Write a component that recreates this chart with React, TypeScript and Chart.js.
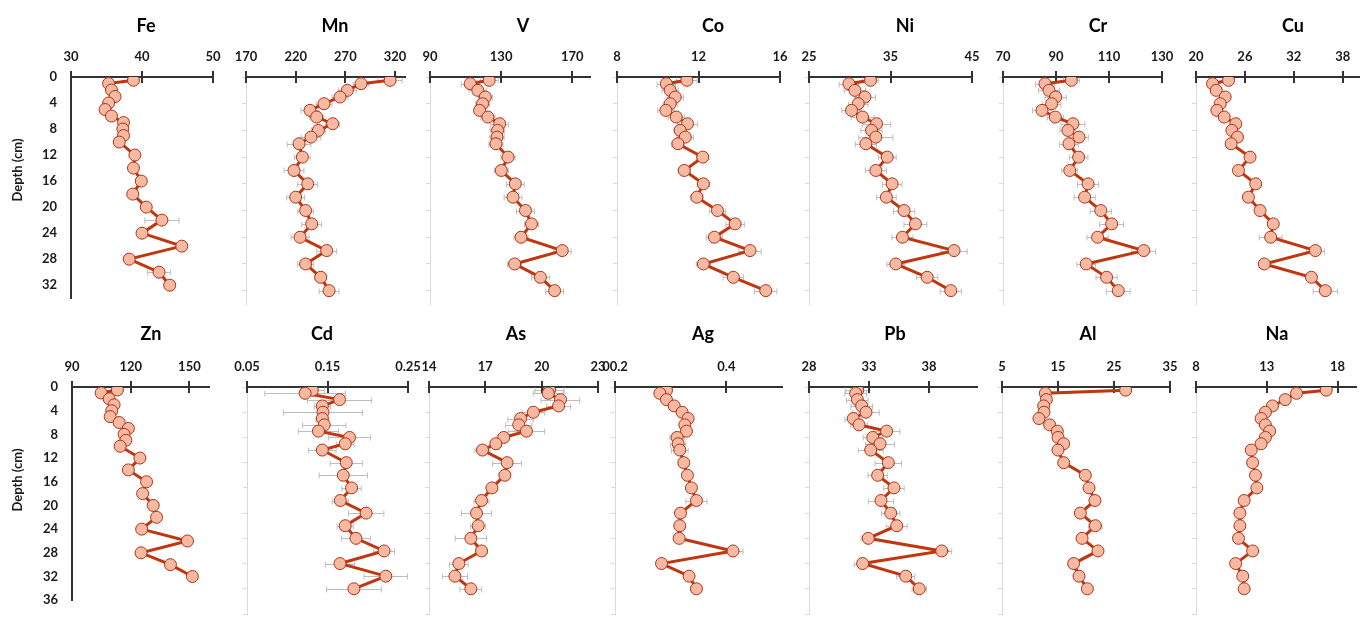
import React, { useEffect, useRef } from "react";
import { Chart, registerables } from "chart.js";

Chart.register(...registerables);

// ---------- DATA ----------
const depths = [0.5, 1, 2, 3, 4, 5, 6, 7, 8, 9, 10, 12, 14, 16, 18, 20, 22, 24, 26, 28, 30, 32];
const depthTicksTop = [0, 4, 8, 12, 16, 20, 24, 28, 32];
const depthTicksBottom = [0, 4, 8, 12, 16, 20, 24, 28, 32, 36];

const feValues = [38.8, 35.3, 35.7, 36.2, 35.3, 34.8, 35.7, 37.4, 37.3, 37.4, 36.8, 39.0, 38.8, 39.9, 38.7, 40.6, 42.8, 40.0, 45.6, 38.2, 42.4, 43.9];
const feErrors = [0.3, 0.3, 0.3, 0.3, 0.3, 0.3, 0.3, 0.3, 0.3, 0.3, 0.3, 0.3, 0.3, 0.3, 0.3, 0.4, 2.4, 0.3, 0.4, 0.3, 1.6, 0.4];
const feTicks = [30, 40, 50];

const mnValues = [315, 285.8, 272, 264.6, 248.5, 234.4, 241.1, 257.2, 242.8, 235.4, 223.4, 226.7, 218.3, 232.1, 220, 230, 236.1, 224.4, 251.2, 230, 245.2, 253.6];
const mnErrors = [12, 8, 9, 8, 8, 9, 7, 7, 7, 10, 12, 8, 10, 10, 9, 8, 10, 9, 10, 8, 6, 10];
const mnTicks = [170, 220, 270, 320];

const vValues = [123.3, 112.6, 116.9, 121.1, 119.6, 117.9, 122.6, 129.2, 128, 127.7, 127.1, 133.9, 130.1, 138, 136.7, 143.7, 147.1, 141.2, 164.4, 137.6, 152.1, 160.1];
const vErrors = [5, 5, 5, 4, 4, 3, 4, 5, 4, 4, 4, 4, 4, 5, 5, 5, 4, 4, 5, 4, 5, 5];
const vTicks = [90, 130, 170];

const coValues = [11.43, 10.42, 10.61, 10.86, 10.61, 10.4, 10.91, 11.46, 11.1, 11.35, 10.99, 12.21, 11.3, 12.24, 11.92, 12.93, 13.8, 12.78, 14.53, 12.24, 13.71, 15.3];
const coErrors = [0.5, 0.45, 0.4, 0.4, 0.35, 0.4, 0.4, 0.5, 0.3, 0.4, 0.3, 0.3, 0.3, 0.3, 0.3, 0.4, 0.45, 0.4, 0.55, 0.35, 0.5, 0.55];
const coTicks = [8, 12, 16];

const niValues = [32.55, 29.9, 30.63, 31.86, 31.04, 30.22, 31.57, 33.29, 32.67, 33.2, 31.98, 34.6, 33.2, 35.2, 34.5, 36.67, 38.06, 36.47, 42.8, 35.65, 39.5, 42.4];
const niErrors = [1, 1.2, 1.3, 1.3, 1.2, 1.2, 1.4, 1.7, 1.3, 2.1, 1.3, 1.1, 1.3, 1.2, 1.2, 1.3, 1.4, 1.3, 1.6, 1.1, 1.3, 1.3];
const niTicks = [25, 35, 45];

const crValues = [95.8, 85.85, 87.36, 89.87, 88.36, 84.7, 89.75, 96.4, 94.5, 98.7, 94.9, 98.55, 95.2, 102.1, 100.8, 106.9, 111, 105.7, 123.1, 101.4, 109.1, 113.5];
const crErrors = [3, 3.5, 4, 4, 3.5, 3.5, 3, 4.5, 3, 3.5, 3.5, 3.5, 3, 4, 4, 4, 4.5, 4, 4.5, 3.5, 4, 4.5];
const crTicks = [70, 90, 110, 130];

const cuValues = [23.99, 22.03, 22.48, 23.58, 22.97, 22.56, 23.46, 24.88, 24.4, 25.09, 24.31, 26.63, 25.21, 27.33, 26.43, 27.86, 29.48, 29.16, 34.65, 28.38, 34.16, 35.87];
const cuErrors = [0.6, 0.6, 0.7, 0.5, 0.6, 0.6, 0.5, 0.6, 0.5, 0.6, 0.4, 0.5, 0.4, 0.5, 0.5, 0.5, 0.4, 1.4, 1.1, 0.6, 0.6, 1.5];
const cuTicks = [20, 26, 32, 38];

const znValues = [113.2, 104.9, 109, 111.5, 110.3, 109.5, 114.1, 118.8, 116.6, 117.5, 114.6, 124.7, 118.8, 128.1, 126.1, 131.5, 133.2, 125.6, 149, 125.3, 140.3, 151.5];
const znErrors = [1, 2, 2, 1, 1, 2, 1, 1, 1, 1, 1, 2, 1, 2, 2, 1, 1, 1, 2, 1, 1, 2];
const znTicks = [90, 120, 150];

const cdValues = [0.1312, 0.1222, 0.165, 0.1436, 0.1444, 0.1436, 0.146, 0.1387, 0.1774, 0.172, 0.1436, 0.1733, 0.1696, 0.1799, 0.1659, 0.198, 0.172, 0.1853, 0.2203, 0.1655, 0.2224, 0.1828];
const cdErrors = [0.015, 0.05, 0.04, 0.01, 0.049, 0.008, 0.027, 0.025, 0.026, 0.011, 0.017, 0.02, 0.03, 0.012, 0.01, 0.022, 0.01, 0.018, 0.013, 0.018, 0.027, 0.034];
const cdTicks = [0.05, 0.15, 0.25];

const asValues = [20.42, 20.35, 21.0, 20.9, 19.56, 18.88, 18.78, 19.19, 17.98, 17.56, 16.85, 18.16, 18.04, 17.35, 16.8, 16.53, 16.62, 16.23, 16.8, 15.59, 15.38, 16.23];
const asErrors = [0.78, 0.8, 1.03, 0.63, 0.6, 0.68, 0.7, 0.97, 0.3, 0.3, 0.4, 0.77, 0.3, 0.3, 0.4, 0.8, 0.4, 0.83, 0.3, 0.5, 0.67, 0.58];
const asTicks = [14, 17, 20, 23];

const agValues = [0.2925, 0.2806, 0.2925, 0.3063, 0.3206, 0.3313, 0.3254, 0.3284, 0.3116, 0.3134, 0.3164, 0.3236, 0.3301, 0.3373, 0.3463, 0.3176, 0.3164, 0.3152, 0.412, 0.2836, 0.3331, 0.3463];
const agErrors = [0.005, 0.005, 0.005, 0.01, 0.005, 0.005, 0.006, 0.006, 0.013, 0.014, 0.015, 0.005, 0.005, 0.005, 0.019, 0.005, 0.005, 0.005, 0.018, 0.005, 0.005, 0.005];
const agTicks = [0.2, 0.4];
const agTickLabels = ["00.2", "0.4"];

const pbValues = [32.06, 31.89, 32.03, 32.39, 32.75, 31.69, 32.17, 34.47, 33.31, 33.92, 33.14, 34.61, 33.72, 35.08, 34.0, 34.81, 35.31, 32.94, 39.06, 32.47, 36.06, 37.19];
const pbErrors = [1, 0.9, 0.9, 0.9, 1.1, 0.7, 0.7, 1.1, 0.8, 1.2, 1.04, 1.1, 0.8, 0.85, 1.05, 0.77, 0.87, 0.6, 0.83, 0.7, 0.76, 0.6];
const pbTicks = [28, 33, 38];

const alValues = [27.08, 12.74, 12.92, 12.44, 12.5, 11.6, 13.51, 14.88, 15.0, 16.01, 15.0, 16.01, 19.88, 20.54, 21.6, 18.99, 21.67, 19.29, 22.14, 17.8, 18.75, 20.24];
const alErrors = [0.3, 0.3, 0.3, 0.3, 0.3, 0.3, 0.3, 0.3, 0.3, 0.3, 0.3, 0.3, 0.3, 0.3, 0.3, 0.3, 1.2, 0.3, 0.3, 0.3, 0.3, 0.3];
const alTicks = [5, 15, 25, 35];

const naValues = [17.2, 15.1, 14.3, 13.4, 12.9, 12.6, 12.9, 13.2, 12.9, 12.6, 11.9, 12.0, 12.2, 12.3, 11.4, 11.1, 11.1, 11.0, 12.0, 10.8, 11.3, 11.4];
const naErrors = [0.2, 0.2, 0.2, 0.2, 0.2, 0.2, 0.2, 0.2, 0.2, 0.2, 0.2, 0.2, 0.2, 0.2, 0.2, 0.2, 0.2, 0.2, 0.2, 0.2, 0.2, 0.2];
const naTicks = [8, 13, 18];

// ---------- STYLE / LAYOUT ----------
const LINE = "#C0360F";
const FILL = "#F8B9A2";
const PBORDER = "#A93418";
const ERR = "#BDBDBD";
const AXIS = "#333333";
const LIGHT = "#D9D9D9";
const TEXT = "#1a1a1a";
const FONT = "Lato, 'Open Sans', sans-serif";

const rows = [
  { canvasTop: 0, axisH: 77, height: 320, plotH: 227, yMax: 34, yTicks: depthTicksTop, titleY: 26, depthY: 170 },
  { canvasTop: 300, axisH: 87, height: 322, plotH: 227, yMax: 36, yTicks: depthTicksBottom, titleY: 334, depthY: 480 },
];

const Y_AREA = 70;
const R_PAD = 40;

type Panel = {
  name: string; values: number[]; errors: number[]; ticks: number[]; labels?: string[];
  min: number; max: number; row: number; left: number; right: number; titleX: number;
};

const panels: Panel[] = [
  { name: "Fe", values: feValues, errors: feErrors, ticks: feTicks, min: 30, max: 50, row: 0, left: 71, right: 213, titleX: 146 },
  { name: "Mn", values: mnValues, errors: mnErrors, ticks: mnTicks, min: 170, max: 330, row: 0, left: 246, right: 405, titleX: 335 },
  { name: "V", values: vValues, errors: vErrors, ticks: vTicks, min: 90, max: 180, row: 0, left: 430, right: 590, titleX: 523 },
  { name: "Co", values: coValues, errors: coErrors, ticks: coTicks, min: 8, max: 16, row: 0, left: 617, right: 780, titleX: 713 },
  { name: "Ni", values: niValues, errors: niErrors, ticks: niTicks, min: 25, max: 45, row: 0, left: 809, right: 972, titleX: 905 },
  { name: "Cr", values: crValues, errors: crErrors, ticks: crTicks, min: 70, max: 130, row: 0, left: 1003, right: 1162, titleX: 1098 },
  { name: "Cu", values: cuValues, errors: cuErrors, ticks: cuTicks, min: 20, max: 40, row: 0, left: 1196, right: 1359, titleX: 1293 },
  { name: "Zn", values: znValues, errors: znErrors, ticks: znTicks, min: 90, max: 160, row: 1, left: 72, right: 209, titleX: 151 },
  { name: "Cd", values: cdValues, errors: cdErrors, ticks: cdTicks, min: 0.05, max: 0.25, row: 1, left: 247, right: 408, titleX: 322 },
  { name: "As", values: asValues, errors: asErrors, ticks: asTicks, min: 14, max: 23, row: 1, left: 429, right: 598, titleX: 516 },
  { name: "Ag", values: agValues, errors: agErrors, ticks: agTicks, labels: agTickLabels, min: 0.2, max: 0.5, row: 1, left: 615, right: 782, titleX: 703 },
  { name: "Pb", values: pbValues, errors: pbErrors, ticks: pbTicks, min: 28, max: 42, row: 1, left: 809, right: 977, titleX: 895 },
  { name: "Al", values: alValues, errors: alErrors, ticks: alTicks, min: 5, max: 35, row: 1, left: 1002, right: 1170, titleX: 1088 },
  { name: "Na", values: naValues, errors: naErrors, ticks: naTicks, min: 8, max: 19.3, row: 1, left: 1196, right: 1356, titleX: 1277 },
];

const decoPlugin = {
  id: "panelDeco",
  beforeDatasetsDraw(chart: any, _args: any, opts: any) {
    const xs = chart.scales.x;
    const ys = chart.scales.y;
    const ctx = chart.ctx;
    const top = chart.chartArea.top;
    ctx.save();
    // error bars
    ctx.strokeStyle = ERR;
    ctx.lineWidth = 1;
    opts.values.forEach((v: number, i: number) => {
      const e = opts.errors[i];
      const y = Math.round(ys.getPixelForValue(depths[i])) + 0.5;
      const x1 = xs.getPixelForValue(v - e);
      const x2 = xs.getPixelForValue(v + e);
      ctx.beginPath();
      ctx.moveTo(x1, y); ctx.lineTo(x2, y);
      ctx.moveTo(x1, y - 3); ctx.lineTo(x1, y + 3);
      ctx.moveTo(x2, y - 3); ctx.lineTo(x2, y + 3);
      ctx.stroke();
    });
    // cross tick marks on the top axis
    ctx.strokeStyle = AXIS;
    ctx.lineWidth = 2;
    xs.ticks.forEach((t: any) => {
      const x = Math.round(xs.getPixelForValue(t.value));
      ctx.beginPath();
      ctx.moveTo(x, top - 6); ctx.lineTo(x, top + 6);
      ctx.stroke();
    });
    ctx.restore();
  },
  afterDraw(chart: any, _args: any, opts: any) {
    const ctx = chart.ctx;
    ctx.save();
    ctx.fillStyle = "#000";
    ctx.textAlign = "center";
    ctx.textBaseline = "middle";
    ctx.font = `bold 18px ${FONT}`;
    ctx.fillText(opts.title, opts.titleX - opts.canvasLeft, opts.titleY - opts.canvasTop);
    if (opts.depthLabel) {
      ctx.translate(18 - opts.canvasLeft, opts.depthY - opts.canvasTop);
      ctx.rotate(-Math.PI / 2);
      ctx.font = `bold 13px ${FONT}`;
      ctx.fillStyle = TEXT;
      ctx.fillText("Depth (cm)", 0, 0);
    }
    ctx.restore();
  },
};

function geom(p: Panel) {
  const row = rows[p.row];
  const canvasLeft = p.left - Y_AREA;
  const width = p.right - p.left + Y_AREA + R_PAD;
  return { row, canvasLeft, width };
}

export default function App() {
  const refs = useRef<(HTMLCanvasElement | null)[]>([]);

  useEffect(() => {
    const charts: Chart[] = [];
    panels.forEach((p, idx) => {
      const canvas = refs.current[idx];
      if (!canvas) return;
      const { row, canvasLeft } = geom(p);
      const first = p.name === "Fe" || p.name === "Zn";
      const tickFont = { family: FONT, weight: "bold" as const, size: 13 };
      const chart = new Chart(canvas, {
        type: "line",
        data: {
          datasets: [
            {
              data: p.values.map((v, i) => ({ x: v, y: depths[i] })),
              borderColor: LINE,
              borderWidth: 3,
              pointRadius: 6,
              pointBackgroundColor: FILL,
              pointBorderColor: PBORDER,
              pointBorderWidth: 1,
              tension: 0,
              fill: false,
            },
          ],
        },
        options: {
          animation: false,
          responsive: false,
          devicePixelRatio: 1,
          layout: { padding: { top: 0, left: 0, right: R_PAD, bottom: row.height - row.axisH - row.plotH }, autoPadding: false },
          plugins: {
            legend: { display: false },
            tooltip: { enabled: false },
            title: { display: false },
            panelDeco: {
              values: p.values,
              errors: p.errors,
              title: p.name,
              titleX: p.titleX,
              titleY: row.titleY,
              canvasLeft,
              canvasTop: row.canvasTop,
              depthLabel: first,
              depthY: row.depthY,
            },
          } as any,
          scales: {
            x: {
              type: "linear",
              position: "top",
              min: p.min,
              max: p.max,
              bounds: "data",
              afterBuildTicks: (s: any) => {
                s.ticks = p.ticks.map((v) => ({ value: v }));
              },
              afterFit: (s: any) => {
                s.height = row.axisH;
              },
              ticks: {
                autoSkip: false,
                maxRotation: 0,
                padding: 12,
                color: TEXT,
                font: tickFont,
                callback: (v: any, i: number) => (p.labels ? p.labels[i] : String(p.ticks[i])),
              },
              grid: { display: false, drawTicks: false },
              border: { display: true, color: AXIS, width: 2 },
            },
            y: {
              type: "linear",
              reverse: true,
              min: 0,
              max: row.yMax,
              bounds: "data",
              afterBuildTicks: (s: any) => {
                s.ticks = row.yTicks.map((v) => ({ value: v }));
              },
              afterFit: (s: any) => {
                s.width = Y_AREA;
              },
              ticks: {
                autoSkip: false,
                display: first,
                padding: 14,
                color: TEXT,
                font: tickFont,
                callback: (v: any, i: number) => String(row.yTicks[i]),
              },
              grid: first
                ? { display: false, drawTicks: false }
                : { display: true, drawOnChartArea: false, drawTicks: true, tickLength: 4, color: LIGHT, lineWidth: 1 },
              border: first ? { display: true, color: AXIS, width: 2 } : { display: true, color: LIGHT, width: 1 },
            },
          },
        },
        plugins: [decoPlugin],
      });
      charts.push(chart);
    });
    return () => charts.forEach((c) => c.destroy());
  }, []);

  return (
    <div style={{ position: "absolute", left: 0, top: 0, width: 1369, height: 622, overflow: "hidden", background: "#fff" }}>
      {panels.map((p, idx) => {
        const { row, canvasLeft, width } = geom(p);
        return (
          <canvas
            key={p.name}
            ref={(el) => {
              refs.current[idx] = el;
            }}
            width={width}
            height={row.height}
            style={{ position: "absolute", left: canvasLeft, top: row.canvasTop, width, height: row.height }}
          />
        );
      })}
    </div>
  );
}
